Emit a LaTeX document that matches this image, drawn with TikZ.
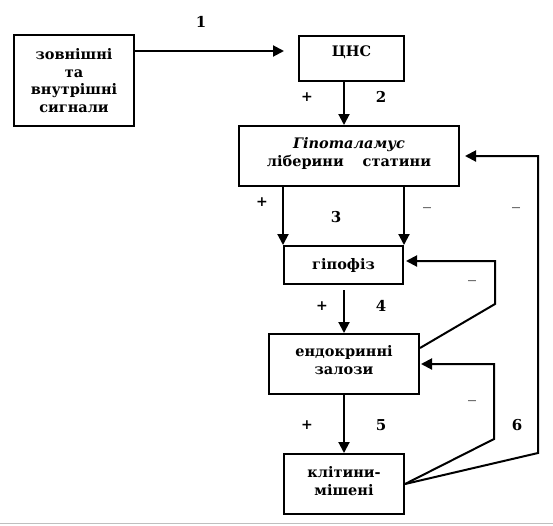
\documentclass[tikz,border=0pt]{standalone}
\usepackage{fontspec}
\setmainfont{DejaVu Serif}
\usetikzlibrary{arrows.meta}

\begin{document}
\begin{tikzpicture}
[
    x=1pt, y=-1pt,
    box/.style={draw, line width=2pt, rectangle, align=center, inner sep=0pt,
        font=\bfseries\fontsize{14.5}{17.5}\selectfont},
    arr/.style={line width=2pt, -{Triangle[length=11pt,width=11pt]}},
    num/.style={font=\bfseries\fontsize{15}{17}\selectfont},
    sgn/.style={font=\bfseries\fontsize{14}{16}\selectfont},
    neg/.style={font=\bfseries\fontsize{9}{11}\selectfont, black!60},
]
\useasboundingbox (0,0) rectangle (553,525);
\draw[black!25, line width=1pt] (0,523.5) -- (553,523.5);

\node[box, minimum width=120pt, minimum height=91pt] (signals) at (74,80.5)
    {зовнішні\\та\\внутрішні\\сигнали};
\node[box, minimum width=105pt, minimum height=45pt, text depth=14pt] (cns) at (351.5,58.5) {ЦНС};
\node[box, minimum width=220pt, minimum height=60pt, text depth=8pt] (hypo) at (349,156)
    {\textit{Гіпоталамус}\\ліберини\hspace{1.3em}статини};
\node[box, minimum width=119pt, minimum height=38pt] (gipofiz) at (343.5,265) {гіпофіз};
\node[box, minimum width=150pt, minimum height=60pt, text depth=8pt] (endo) at (344,364)
    {ендокринні\\залози};
\node[box, minimum width=120pt, minimum height=60pt, text depth=6pt] (target) at (344,484)
    {клітини-\\мішені};

\coordinate (k1) at (495,304);
\coordinate (k2) at (495,261);
\coordinate (k3) at (494,439);
\coordinate (k4) at (538,453);

\draw[arr] ([yshift=29.5pt]signals.east) -- ([xshift=-14pt,yshift=7.5pt]cns.west);
\draw[arr] ([xshift=-7.5pt]cns.south) -- ([xshift=-5pt]hypo.north);
\draw[arr] (gipofiz.north west |- hypo.south) -- (gipofiz.north west);
\draw[arr] (gipofiz.north east |- hypo.south) -- (gipofiz.north east);
\draw[arr] ([yshift=-5pt]gipofiz.south -| endo.north) -- (endo.north);
\draw[arr] (endo.south) -- (target.north);
\draw[arr] ([yshift=16pt]endo.east) -- (k1) -- (k2) -- ([xshift=2pt]gipofiz.east |- k2);
\draw[arr] (target.east) -- (k3) -- (k3 |- endo.east) -- ([xshift=1pt]endo.east);
\draw[arr] (target.east) -- (k4) -- (k4 |- hypo.east) -- ([xshift=5pt]hypo.east);

\node[num] (n1) at (201,22) {1};
\node[num] (n2) at (381,97) {2};
\node[num] (n3) at (336,217) {3};
\node[num] (n4) at (381,306) {4};
\node[num] (n5) at (381,425) {5};
\node[num] (n6) at (517,425) {6};

\node[sgn] (p2) at (307,97) {+};
\node[sgn] (p3) at (262,202) {+};
\node[sgn] (p4) at (322,306) {+};
\node[sgn] (p5) at (307,425) {+};
\node[neg] (m3) at (427,209) {—};
\node[neg] (m6) at (516,209) {—};
\node[neg] (m4) at (472,282) {—};
\node[neg] (m5) at (472,402) {—};
\end{tikzpicture}
\end{document}
